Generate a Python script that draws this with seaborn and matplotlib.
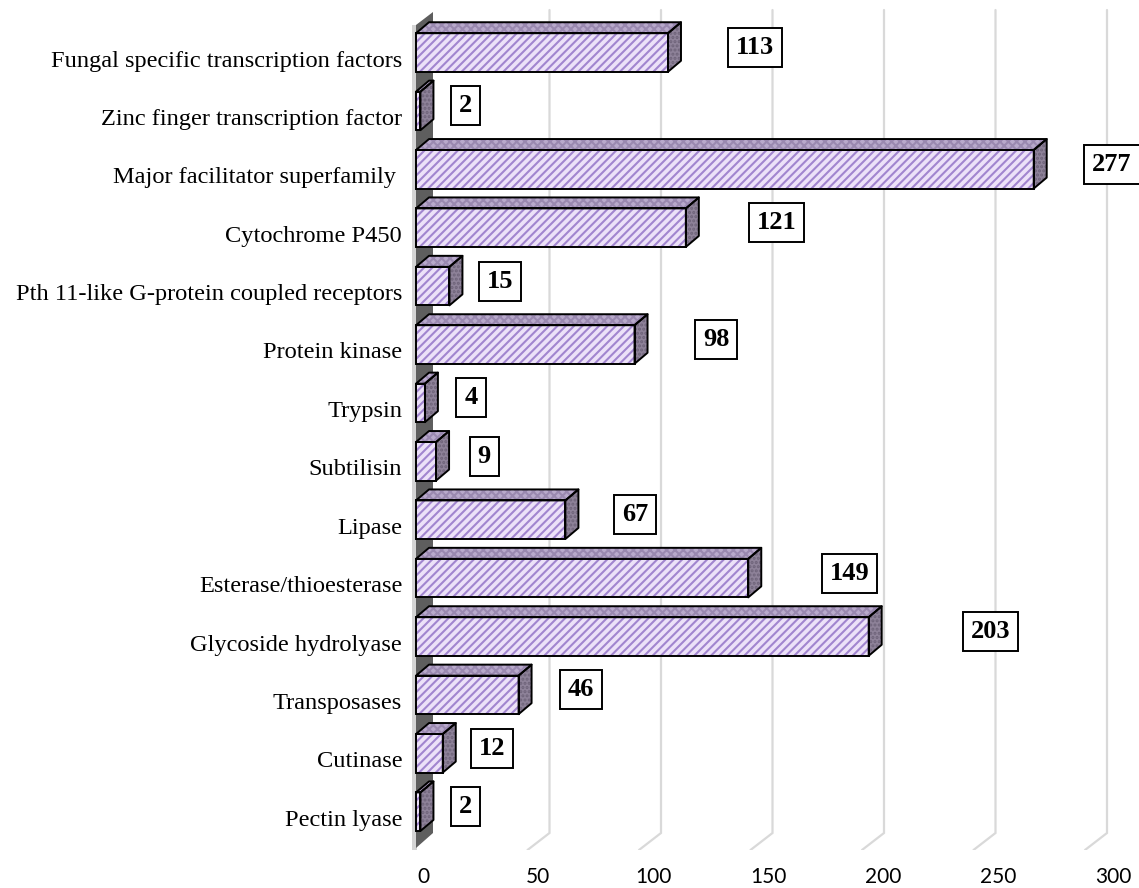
import matplotlib
matplotlib.use("Agg")
import matplotlib.pyplot as plt
import matplotlib.transforms as mtransforms
from matplotlib.patches import Polygon, Rectangle
import numpy as np
import pandas as pd
import seaborn as sns

# ---- data -------------------------------------------------------------
categories = [
    "Fungal specific transcription factors",
    "Zinc finger transcription factor",
    "Major facilitator superfamily ",
    "Cytochrome P450",
    "Pth 11-like G-protein coupled receptors",
    "Protein kinase",
    "Trypsin",
    "Subtilisin",
    "Lipase",
    "Esterase/thioesterase",
    "Glycoside hydrolyase",
    "Transposases",
    "Cutinase",
    "Pectin lyase",
]
counts = [113, 2, 277, 121, 15, 98, 4, 9, 67, 149, 203, 46, 12, 2]
x_ticks = [0, 50, 100, 150, 200, 250, 300]

df = pd.DataFrame({"category": categories, "count": counts})

# ---- style ------------------------------------------------------------
sns.set_theme(style="white")
plt.rcParams["hatch.linewidth"] = 1.5

FRONT = "#ece1f8"
HATCH = "#a185cf"
TOP = "#b8a9cb"
TOP_HATCH = "#9a89b0"
SIDE = "#8e8299"
SIDE_HATCH = "#6e6379"
GRID = "#d9d9d9"
WALL = "#5e5e5e"
WALL_EDGE = "#d4d4d4"

W, H = 1139, 888
fig = plt.figure(figsize=(W / 100, H / 100), dpi=100)

# plot area in pixels (top-down y)
ax_l, ax_r, ax_t, ax_b = 405, 1139, 0, 850
rect = [ax_l / W, (H - ax_b) / H, (ax_r - ax_l) / W, (ax_b - ax_t) / H]
ax = fig.add_axes(rect)

PX = 2.23      # pixels per unit along the value axis
X0 = 416       # pixel column of zero
ROW = 58.4     # pixels per category row
Y0 = 52.5      # pixel row of the first category

def ypx(p):
    """pixel row -> category coordinate"""
    return (p - Y0) / ROW

def xpx(p):
    """pixel column -> value coordinate"""
    return (p - X0) / PX

sns.barplot(data=df, x="count", y="category", orient="h", color=FRONT,
            width=0.66, ax=ax, zorder=3)

ax.set_xlim(xpx(ax_l), xpx(ax_r))
ax.set_ylim(ypx(ax_b), ypx(ax_t))

# depth of bars and of the back wall, in data units
DX, DY = 13 / PX, 11 / ROW
GDX = 22 / PX

# ---- back gridlines and floor edges ----------------------------------
for v in x_ticks[1:]:
    ax.plot([v + GDX, v + GDX, v], [ypx(10), ypx(833), ypx(850)],
            color=GRID, lw=1.6, zorder=1, solid_joinstyle="miter")

# ---- left wall ------------------------------------------------------
ax.add_patch(Rectangle((xpx(412), ypx(25)), 5 / PX, ypx(850) - ypx(25),
                       facecolor=WALL_EDGE, edgecolor="none", zorder=1))
ax.add_patch(Polygon([(0, ypx(25)), (xpx(433), ypx(12)),
                      (xpx(433), ypx(833)), (0, ypx(848))],
                     closed=True, facecolor=WALL, edgecolor="none", zorder=1.5))

# ---- 3D bars ----------------------------------------------------------
for bar in list(ax.patches)[:len(counts)]:
    x0, y0 = bar.get_x(), bar.get_y()
    w, h = bar.get_width(), bar.get_height()
    x1, y1 = x0 + w, y0 + h  # y0 is the upper edge (inverted axis)
    bar.set_facecolor(FRONT)
    bar.set_edgecolor(HATCH)
    bar.set_hatch("////")
    bar.set_linewidth(0)
    ax.add_patch(Rectangle((x0, y0), w, h, facecolor="none",
                           edgecolor="black", lw=1.4, zorder=5))
    top = [(x0, y0), (x1, y0), (x1 + DX, y0 - DY), (x0 + DX, y0 - DY)]
    side = [(x1, y0), (x1 + DX, y0 - DY), (x1 + DX, y1 - DY), (x1, y1)]
    ax.add_patch(Polygon(top, closed=True, facecolor=TOP, edgecolor=TOP_HATCH,
                         hatch="xxxx", lw=0, zorder=4))
    ax.add_patch(Polygon(side, closed=True, facecolor=SIDE, edgecolor=SIDE_HATCH,
                         hatch="....", lw=0, zorder=4))
    ax.add_patch(Polygon(top, closed=True, facecolor="none", edgecolor="black",
                         lw=1.4, zorder=5, joinstyle="round"))
    ax.add_patch(Polygon(side, closed=True, facecolor="none", edgecolor="black",
                         lw=1.4, zorder=5, joinstyle="round"))

# ---- value labels -----------------------------------------------------
for i, v in enumerate(counts):
    xl = min(v + 20 + 0.17 * v, xpx(1112))
    ax.text(xl, i - 5 / ROW, str(v), ha="center", va="center",
            family="Liberation Serif", fontweight="bold", fontsize=19,
            color="black", zorder=6,
            bbox=dict(boxstyle="square,pad=0.3", facecolor="white",
                      edgecolor="black", lw=1.4))

# ---- category axis ----------------------------------------------------
ax.set_xlabel("")
ax.set_ylabel("")
ax.set_xticks([])
for s in ax.spines.values():
    s.set_visible(False)
ax.tick_params(axis="y", length=0, pad=2)
shift = mtransforms.ScaledTranslation(0, -6 / 100, fig.dpi_scale_trans)
for lab in ax.get_yticklabels():
    lab.set_family("Liberation Serif")
    lab.set_fontsize(17.6)
    lab.set_color("black")
    lab.set_transform(lab.get_transform() + shift)

# ---- value axis labels along the front floor edge ---------------------
axl = fig.add_axes(rect, frameon=False)
axl.set_xlim((ax_l - 423) / 2.3, (ax_r - 423) / 2.3)
axl.set_yticks([])
axl.set_xticks(x_ticks)
axl.set_xticklabels([str(t) for t in x_ticks], family="Lato", fontsize=15,
                    color="black")
axl.tick_params(axis="x", length=0, pad=12)
axl.patch.set_visible(False)

fig.savefig("out.png", dpi=100)
